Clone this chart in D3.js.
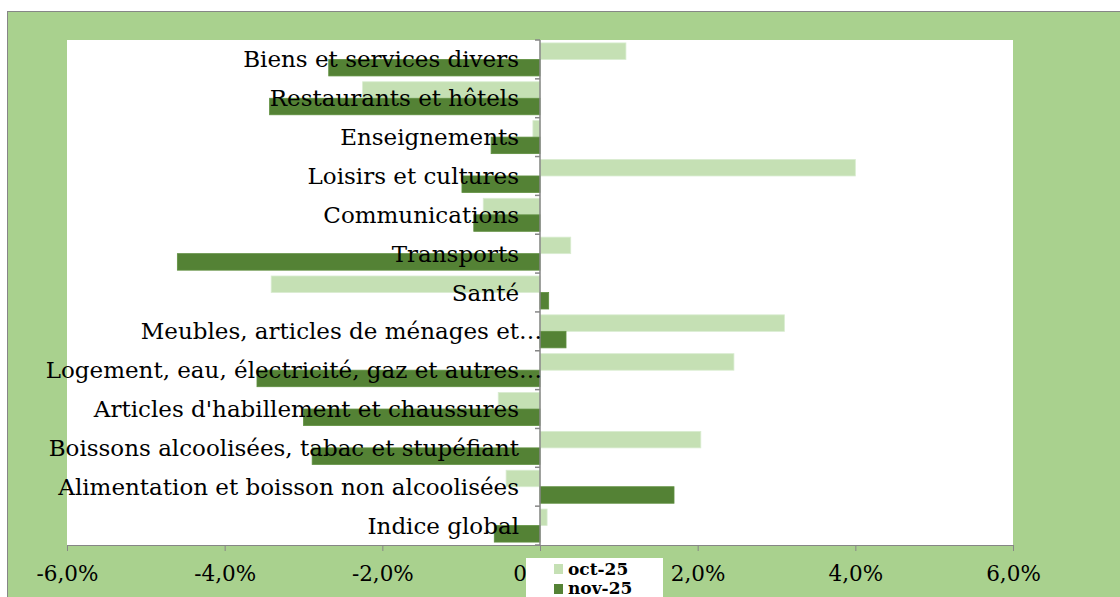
<!DOCTYPE html>
<html>
<head>
<meta charset="utf-8">
<script src="https://cdn.jsdelivr.net/npm/d3@7"></script>
<style>
  body { margin: 0; background: #fff; }
  svg { display: block; }
  .cat { font-family: "DejaVu Serif", serif; font-size: 23px; fill: #000; }
  .xaxis text { font-family: "DejaVu Serif", serif; font-size: 21.5px; fill: #000; }
  .xaxis path, .xaxis line { stroke: #868686; }
  .leg { font-family: "DejaVu Serif", serif; font-size: 17px; font-weight: bold; }
</style>
</head>
<body>
<div id="chart"></div>
<script>
// categories, top to bottom as shown
var categories = [
  'Biens et services divers',
  'Restaurants et hôtels',
  'Enseignements',
  'Loisirs et cultures',
  'Communications',
  'Transports',
  'Santé',
  'Meubles, articles de ménages et…',
  'Logement, eau, électricité, gaz et autres…',
  "Articles d'habillement et chaussures",
  'Boissons alcoolisées, tabac et stupéfiant',
  'Alimentation et boisson non alcoolisées',
  'Indice global'
]

var series = ['oct-25', 'nov-25']

// values in %
var oct25 = [1.09, -2.25, -0.09, 4.0, -0.72, 0.39, -3.41, 3.1, 2.46, -0.53, 2.04, -0.43, 0.09]
var nov25 = [-2.68, -3.43, -0.62, -0.99, -0.84, -4.6, 0.11, 0.33, -3.59, -3.0, -2.89, 1.70, -0.58]

var xTicks = [-6, -4, -2, 0, 2, 4, 6]

var colors = {'oct-25': '#c5e0b4', 'nov-25': '#548235'}

var data = categories.map(function(c, i){
  return {cat: c, 'oct-25': oct25[i], 'nov-25': nov25[i]}
})

var W = 1120, H = 597

var svg = d3.select('#chart').append('svg').attr('width', W).attr('height', H)

// outer chart area
svg.append('rect')
  .attr('x', 7.5).attr('y', 11.5).attr('width', W).attr('height', H)
  .attr('fill', '#a9d18e').attr('stroke', '#868686').attr('stroke-width', 1)

var plot = {left: 67, right: 1013, top: 40, bottom: 545}

svg.append('rect')
  .attr('x', plot.left).attr('y', plot.top)
  .attr('width', plot.right - plot.left).attr('height', plot.bottom - plot.top)
  .attr('fill', '#fff')

var x = d3.scaleLinear().domain([-6, 6]).range([plot.left, plot.right])

var y = d3.scaleBand().domain(categories)
  .range([plot.top, plot.bottom])
  .paddingInner(0.15).paddingOuter(0.075)

var ySub = d3.scaleBand().domain(series).range([0, y.bandwidth()])

// bars
var g = svg.append('g')
data.forEach(function(d){
  series.forEach(function(s){
    var v = d[s]
    g.append('rect')
      .attr('x', x(Math.min(0, v)))
      .attr('y', y(d.cat) + ySub(s))
      .attr('width', Math.abs(x(v) - x(0)))
      .attr('height', ySub.bandwidth())
      .attr('fill', colors[s])
      .attr('stroke', s == 'oct-25' ? '#d9ecd0' : '#5f8f3f')
      .attr('stroke-width', 0.8)
  })
})

// x axis
var xAxis = d3.axisBottom(x)
  .tickValues(xTicks)
  .tickSize(6)
  .tickPadding(10)
  .tickFormat(function(v){ return (v < 0 ? '-' : '') + Math.abs(v).toFixed(1).replace('.', ',') + '%' })

svg.append('g').attr('class', 'xaxis')
  .attr('transform', 'translate(0,' + plot.bottom + ')')
  .call(xAxis)
  .call(function(a){ a.select('.domain').attr('d', 'M' + plot.left + ',0.5H' + plot.right) })
  .selectAll('text').attr('dy', '0.95em')

// vertical axis at zero with ticks on category boundaries
svg.append('line')
  .attr('x1', x(0)).attr('x2', x(0))
  .attr('y1', plot.top).attr('y2', plot.bottom)
  .attr('stroke', '#868686').attr('stroke-width', 1.5)

d3.range(categories.length + 1).forEach(function(k){
  var yy = plot.top + k * y.step()
  svg.append('line')
    .attr('x1', x(0) - 5).attr('x2', x(0))
    .attr('y1', yy).attr('y2', yy)
    .attr('stroke', '#868686').attr('stroke-width', 1.5)
})

// category labels (drawn over the bars)
svg.append('g').selectAll('text')
  .data(categories)
  .enter().append('text')
  .attr('class', 'cat')
  .attr('x', function(d){ return d.slice(-1) == '…' ? x(0) + 2 : x(0) - 21 })
  .attr('y', function(d){ return y(d) + y.bandwidth() / 2 })
  .attr('dy', '0.35em')
  .attr('text-anchor', 'end')
  .text(function(d){ return d })

// legend
var leg = svg.append('g')
leg.append('rect')
  .attr('x', 526).attr('y', 558).attr('width', 137).attr('height', 50)
  .attr('fill', '#fff')

series.forEach(function(s, i){
  leg.append('rect')
    .attr('x', 554).attr('y', 564 + i * 20).attr('width', 9).attr('height', 10)
    .attr('fill', colors[s])
  leg.append('text')
    .attr('class', 'leg')
    .attr('x', 568).attr('y', 575 + i * 19)
    .text(s)
})
</script>
</body>
</html>
